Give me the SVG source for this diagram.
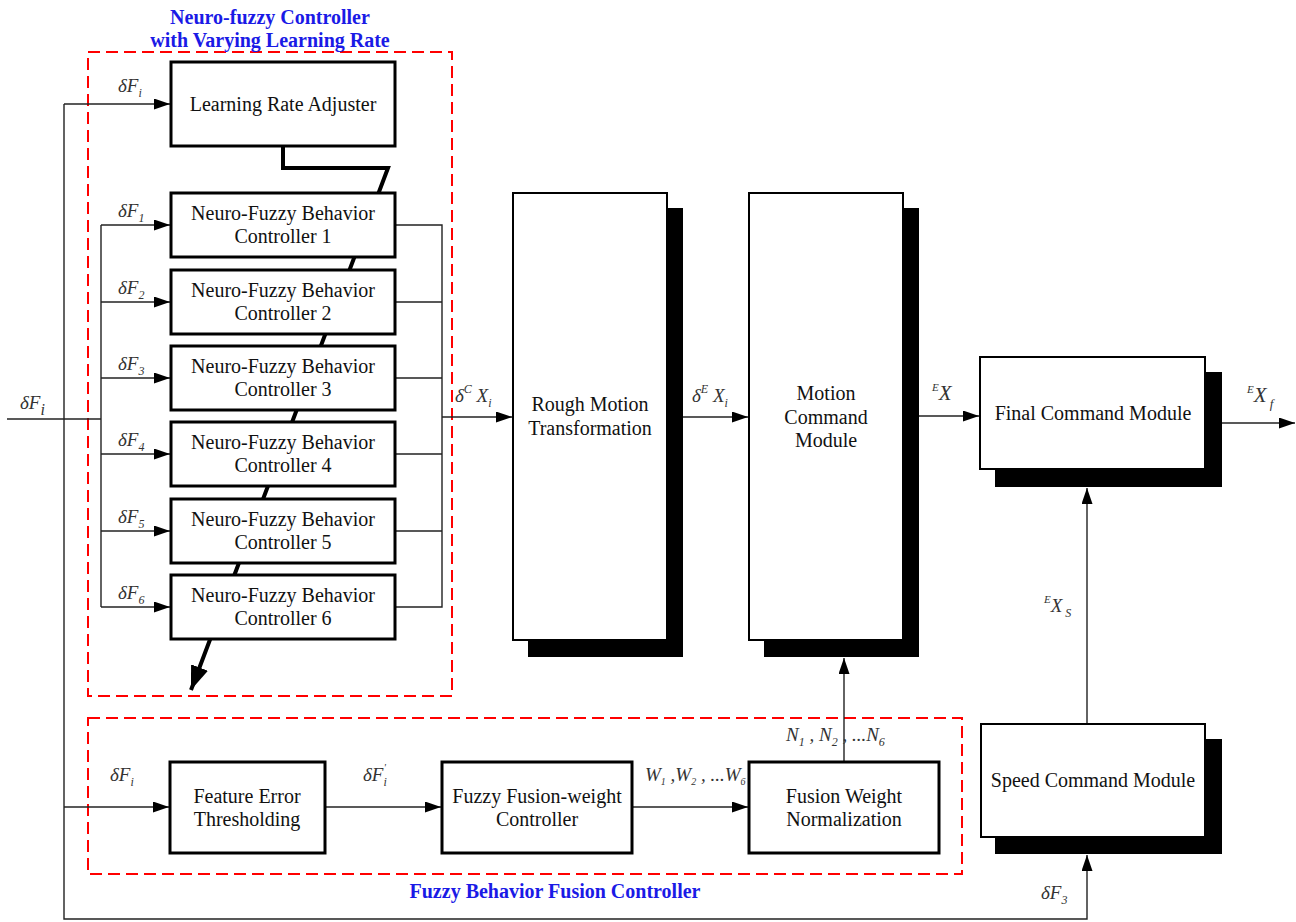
<svg xmlns="http://www.w3.org/2000/svg" width="1296" height="922" viewBox="0 0 1296 922" font-family="'Liberation Serif', 'DejaVu Serif', serif">
<style>
.box{fill:#fff;stroke:#000;stroke-width:3}
.big{fill:#fff;stroke:#000;stroke-width:2}
.sh{fill:#000}
text{font-family:'Liberation Serif','DejaVu Serif',serif}
.t{font-size:20px;fill:#111;text-anchor:middle}
.m{font-style:italic;font-size:19px;fill:#333}
.ttl{font-weight:bold;font-size:20px;fill:#1a1ae6;text-anchor:middle}
.ln{fill:none;stroke:#222;stroke-width:1.4}
.red{fill:none;stroke:#ff0000;stroke-width:2;stroke-dasharray:12 6}
</style>
<defs>
<marker id="a" markerUnits="userSpaceOnUse" markerWidth="16" markerHeight="12" refX="16" refY="5.5" orient="auto"><path d="M0,0 L16,5.5 L0,11 z" fill="#000"/></marker>
<marker id="ab" markerUnits="userSpaceOnUse" markerWidth="24" markerHeight="20" refX="24" refY="9" orient="auto"><path d="M0,0 L24,9 L0,18 z" fill="#000"/></marker>
</defs>
<rect width="1296" height="922" fill="#fff"/>
<g id="groups">
<rect class="red" x="88" y="52" width="364" height="644"/>
<text class="ttl" x="270" y="24">Neuro-fuzzy Controller</text>
<text class="ttl" x="270" y="47">with Varying Learning Rate</text>
<rect class="red" x="88" y="718" width="874" height="156"/>
<text class="ttl" x="555" y="898">Fuzzy Behavior Fusion Controller</text>
</g>
<g id="connectors">
<path d="M283,146 L283,168 L388,168 L191,690" fill="none" stroke="#000" stroke-width="4" marker-end="url(#ab)"/>
<path class="ln" d="M7,419 L101,419"/>
<path class="ln" d="M64,104 L64,919 L1087,919 L1087,855" marker-end="url(#a)"/>
<path class="ln" d="M64,104 L170,104" marker-end="url(#a)"/>
<path class="ln" d="M101,225 L101,607"/>
<path class="ln" d="M101,225 L170,225" marker-end="url(#a)"/>
<path class="ln" d="M101,302 L170,302" marker-end="url(#a)"/>
<path class="ln" d="M101,378 L170,378" marker-end="url(#a)"/>
<path class="ln" d="M101,454 L170,454" marker-end="url(#a)"/>
<path class="ln" d="M101,531 L170,531" marker-end="url(#a)"/>
<path class="ln" d="M101,607 L170,607" marker-end="url(#a)"/>
<path class="ln" d="M395,225 L442,225 L442,607 L395,607 M395,302 L442,302 M395,378 L442,378 M395,454 L442,454 M395,531 L442,531"/>
<path class="ln" d="M442,417 L512,417" marker-end="url(#a)"/>
<path class="ln" d="M683,417 L748,417" marker-end="url(#a)"/>
<path class="ln" d="M919,416 L979,416" marker-end="url(#a)"/>
<path class="ln" d="M1222,423 L1295,423" marker-end="url(#a)"/>
<path class="ln" d="M1087,724 L1087,488" marker-end="url(#a)"/>
<path class="ln" d="M64,807 L169,807" marker-end="url(#a)"/>
<path class="ln" d="M325,807 L441,807" marker-end="url(#a)"/>
<path class="ln" d="M632,807 L748,807" marker-end="url(#a)"/>
<path class="ln" d="M844,762 L844,658" marker-end="url(#a)"/>
</g>
<g id="labels">
<text class="m" x="20" y="409" font-size="27">δF<tspan font-size="16" dy="6">i</tspan></text>
<text class="m" x="118" y="92">δF<tspan font-size="12" dy="5">i</tspan></text>
<text class="m" x="118" y="217">δF<tspan font-size="12" dy="5">1</tspan></text>
<text class="m" x="118" y="294">δF<tspan font-size="12" dy="5">2</tspan></text>
<text class="m" x="118" y="370">δF<tspan font-size="12" dy="5">3</tspan></text>
<text class="m" x="118" y="446">δF<tspan font-size="12" dy="5">4</tspan></text>
<text class="m" x="118" y="523">δF<tspan font-size="12" dy="5">5</tspan></text>
<text class="m" x="118" y="599">δF<tspan font-size="12" dy="5">6</tspan></text>
<text class="m" x="455" y="402">δ<tspan font-size="12" dy="-9">C</tspan><tspan dy="9"> X</tspan><tspan font-size="12" dy="5">i</tspan></text>
<text class="m" x="692" y="402">δ<tspan font-size="12" dy="-9">E</tspan><tspan dy="9"> X</tspan><tspan font-size="12" dy="5">i</tspan></text>
<text class="m" x="932" y="400"><tspan font-size="11" dy="-9">E</tspan><tspan dy="9" font-size="21">X</tspan></text>
<text class="m" x="1247" y="402"><tspan font-size="11" dy="-9">E</tspan><tspan dy="9" font-size="21">X</tspan><tspan font-size="13" dy="6"> f</tspan></text>
<text class="m" x="1044" y="612"><tspan font-size="11" dy="-9">E</tspan><tspan dy="9">X</tspan><tspan font-size="12" dy="5"> S</tspan></text>
<text class="m" x="1041" y="899">δF<tspan font-size="12" dy="5">3</tspan></text>
<text class="m" x="110" y="781">δF<tspan font-size="12" dy="5">i</tspan></text>
<text class="m" x="363" y="781">δF<tspan font-size="12" dy="5">i</tspan><tspan font-size="10" dx="-3" dy="-15">'</tspan></text>
<text class="m" x="645" y="781" font-size="15">W<tspan font-size="10" dy="4">1</tspan><tspan dy="-4"> ,W</tspan><tspan font-size="10" dy="4">2</tspan><tspan dy="-4"> , ...W</tspan><tspan font-size="10" dy="4">6</tspan></text>
<text class="m" x="786" y="741" font-size="18">N<tspan font-size="12" dy="5">1</tspan><tspan dy="-5"> , N</tspan><tspan font-size="12" dy="5">2</tspan><tspan dy="-5"> , ...N</tspan><tspan font-size="12" dy="5">6</tspan></text>
</g>
<g id="lra"><rect class="box" x="171" y="62" width="224" height="84"/><text class="t" x="283" y="111">Learning Rate Adjuster</text></g>
<g id="nf1"><rect class="box" x="171" y="193" width="224" height="64"/><text class="t" x="283" y="220">Neuro-Fuzzy Behavior</text><text class="t" x="283" y="243">Controller 1</text></g>
<g id="nf2"><rect class="box" x="171" y="270" width="224" height="64"/><text class="t" x="283" y="297">Neuro-Fuzzy Behavior</text><text class="t" x="283" y="320">Controller 2</text></g>
<g id="nf3"><rect class="box" x="171" y="346" width="224" height="64"/><text class="t" x="283" y="373">Neuro-Fuzzy Behavior</text><text class="t" x="283" y="396">Controller 3</text></g>
<g id="nf4"><rect class="box" x="171" y="422" width="224" height="64"/><text class="t" x="283" y="449">Neuro-Fuzzy Behavior</text><text class="t" x="283" y="472">Controller 4</text></g>
<g id="nf5"><rect class="box" x="171" y="499" width="224" height="64"/><text class="t" x="283" y="526">Neuro-Fuzzy Behavior</text><text class="t" x="283" y="549">Controller 5</text></g>
<g id="nf6"><rect class="box" x="171" y="575" width="224" height="64"/><text class="t" x="283" y="602">Neuro-Fuzzy Behavior</text><text class="t" x="283" y="625">Controller 6</text></g>
<g id="rough"><rect class="sh" x="528" y="208" width="155" height="449"/><rect class="big" x="513" y="193" width="154" height="447"/><text class="t" x="590" y="411">Rough Motion</text><text class="t" x="590" y="435">Transformation</text></g>
<g id="motion"><rect class="sh" x="764" y="208" width="155" height="449"/><rect class="big" x="749" y="193" width="154" height="447"/><text class="t" x="826" y="400">Motion</text><text class="t" x="826" y="424">Command</text><text class="t" x="826" y="447">Module</text></g>
<g id="final"><rect class="sh" x="995" y="372" width="227" height="115"/><rect class="big" x="980" y="357" width="225" height="112"/><text class="t" x="1093" y="420">Final Command Module</text></g>
<g id="speed"><rect class="sh" x="995" y="739" width="227" height="115"/><rect class="big" x="981" y="724" width="224" height="113"/><text class="t" x="1093" y="787">Speed Command Module</text></g>
<g id="fet"><rect class="box" x="170" y="762" width="155" height="91"/><text class="t" x="247" y="803">Feature Error</text><text class="t" x="247" y="826">Thresholding</text></g>
<g id="ffw"><rect class="box" x="442" y="762" width="190" height="91"/><text class="t" x="537" y="803">Fuzzy Fusion-weight</text><text class="t" x="537" y="826">Controller</text></g>
<g id="fwn"><rect class="box" x="749" y="762" width="190" height="91"/><text class="t" x="844" y="803">Fusion Weight</text><text class="t" x="844" y="826">Normalization</text></g>
</svg>
